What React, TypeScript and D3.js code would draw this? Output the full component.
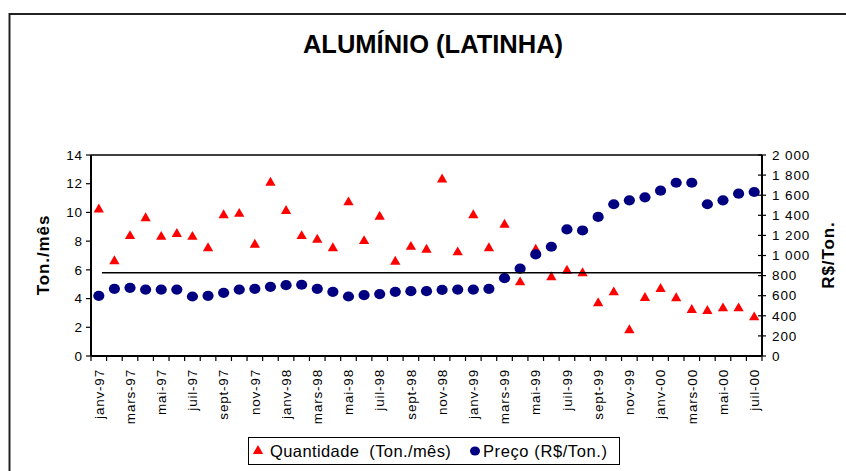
import React, { useRef, useEffect } from 'react';
import * as d3 from 'd3';

// monthly categories janv-97 .. juil-00
const monthNames = ['janv', 'févr', 'mars', 'avr', 'mai', 'juin', 'juil', 'août', 'sept', 'oct', 'nov', 'déc'];
const years = ['97', '98', '99', '00'];
const months: string[] = [];
years.forEach((yr) => monthNames.forEach((m) => months.push(`${m}-${yr}`)));
const categories = months.slice(0, 43);

// Quantidade (Ton./mês) - left axis
const quantidade = [
  10.2, 6.6, 8.35, 9.6, 8.3, 8.5, 8.3, 7.5, 9.8, 9.9, 7.75, 12.07,
  10.1, 8.35, 8.1, 7.5, 10.7, 8.0, 9.7, 6.57, 7.6, 7.4, 12.3, 7.22,
  9.8, 7.5, 9.14, 5.13, 7.4, 5.48, 5.94, 5.76, 3.67, 4.43, 1.79, 4.04,
  4.67, 4.02, 3.2, 3.13, 3.32, 3.32, 2.69,
];

// Preço (R$/Ton.) - right axis
const preco = [
  599, 668, 678, 661, 661, 661, 592, 599, 629, 661, 668, 688,
  705, 709, 668, 639, 592, 606, 616, 639, 645, 645, 658, 661,
  661, 668, 774, 869, 1011, 1087, 1259, 1249, 1384, 1510, 1549, 1579,
  1645, 1724, 1724, 1510, 1549, 1615, 1632,
];

const leftTicks = [0, 2, 4, 6, 8, 10, 12, 14];
const rightTicks = [0, 200, 400, 600, 800, 1000, 1200, 1400, 1600, 1800, 2000];
const refValue = 5.8;

const App = () => {
  const chartRef = useRef(null);

  useEffect(() => {
    document.body.style.margin = '0';
    const container = d3.select(chartRef.current);
    container.select('svg').remove();

    const width = 846;
    const height = 471;
    const left = 91;
    const right = 762;
    const top = 155;
    const bottom = 356;
    const font = '"Liberation Sans", Arial, sans-serif';

    const svg = container
      .append('svg')
      .attr('width', width)
      .attr('height', height)
      .style('display', 'block')
      .style('font-family', font);

    svg.append('rect').attr('width', width).attr('height', height).attr('fill', '#fff');

    // outer frame (extends past the window)
    svg.append('rect')
      .attr('x', 9.5).attr('y', 14)
      .attr('width', 900).attr('height', 500)
      .attr('fill', 'none').attr('stroke', '#222').attr('stroke-width', 2);

    svg.append('text')
      .attr('x', 433).attr('y', 53)
      .attr('text-anchor', 'middle')
      .attr('font-size', 25.5).attr('font-weight', 'bold')
      .text('ALUMÍNIO (LATINHA)');

    const x = d3.scaleBand().domain(categories).range([left, right]);
    const yL = d3.scaleLinear().domain([0, 14]).range([bottom, top]);
    const yR = d3.scaleLinear().domain([0, 2000]).range([bottom, top]);
    const fmt = d3.formatLocale({ decimal: ',', thousands: ' ', grouping: [3], currency: ['', ''] }).format(',');

    // plot frame: top line
    svg.append('line')
      .attr('x1', left).attr('x2', right).attr('y1', top).attr('y2', top)
      .attr('stroke', '#000').attr('stroke-width', 1.5);

    // left axis
    const gl = svg.append('g');
    gl.append('line').attr('x1', left).attr('x2', left).attr('y1', top).attr('y2', bottom)
      .attr('stroke', '#000').attr('stroke-width', 2);
    leftTicks.forEach((t) => {
      gl.append('line').attr('x1', left - 5).attr('x2', left).attr('y1', yL(t)).attr('y2', yL(t))
        .attr('stroke', '#000').attr('stroke-width', 1.2);
      gl.append('text').attr('x', 83).attr('y', yL(t)).attr('dy', '0.35em')
        .attr('text-anchor', 'end').attr('font-size', 13.5).style('letter-spacing', '0.9px')
        .text(String(t));
    });

    // right axis
    const gr = svg.append('g');
    gr.append('line').attr('x1', right).attr('x2', right).attr('y1', top).attr('y2', bottom)
      .attr('stroke', '#000').attr('stroke-width', 2);
    rightTicks.forEach((t) => {
      gr.append('line').attr('x1', right - 4).attr('x2', right + 4).attr('y1', yR(t)).attr('y2', yR(t))
        .attr('stroke', '#000').attr('stroke-width', 1.2);
      gr.append('text').attr('x', 772).attr('y', yR(t)).attr('dy', '0.35em')
        .attr('font-size', 13.5).style('letter-spacing', '0.9px')
        .text(fmt(t));
    });

    // bottom axis
    const gb = svg.append('g');
    gb.append('line').attr('x1', left).attr('x2', right).attr('y1', bottom).attr('y2', bottom)
      .attr('stroke', '#000').attr('stroke-width', 2);
    for (let i = 0; i <= categories.length; i++) {
      const tx = left + i * x.step();
      gb.append('line').attr('x1', tx).attr('x2', tx).attr('y1', bottom).attr('y2', bottom + 5)
        .attr('stroke', '#000').attr('stroke-width', 1.2);
    }
    categories.forEach((c, i) => {
      if (i % 2 !== 0) return;
      const cx = (x(c) as number) + x.bandwidth() / 2;
      gb.append('text')
        .attr('transform', `translate(${cx},369) rotate(-90)`)
        .attr('dy', '0.35em')
        .attr('text-anchor', 'end')
        .attr('font-size', 13.5).style('letter-spacing', '0.8px')
        .text(c);
    });

    // axis titles
    svg.append('text')
      .attr('transform', 'translate(43,255) rotate(-90)')
      .attr('dy', '0.35em').attr('text-anchor', 'middle')
      .attr('font-size', 17).attr('font-weight', 'bold').style('letter-spacing', '0.9px')
      .text('Ton./mês');
    svg.append('text')
      .attr('transform', 'translate(828,255) rotate(-90)')
      .attr('dy', '0.35em').attr('text-anchor', 'middle')
      .attr('font-size', 17).attr('font-weight', 'bold').style('letter-spacing', '0.9px')
      .text('R$/Ton.');

    const cxOf = (i: number) => (x(categories[i]) as number) + x.bandwidth() / 2;
    const tri = d3.symbol().type(d3.symbolTriangle).size(46);

    // quantidade triangles
    svg.append('g').selectAll('path')
      .data(quantidade)
      .enter()
      .append('path')
      .attr('d', tri as any)
      .attr('transform', (d, i) => `translate(${cxOf(i)},${yL(d)})`)
      .attr('fill', '#ff0000');

    // preco circles
    svg.append('g').selectAll('ellipse')
      .data(preco)
      .enter()
      .append('ellipse')
      .attr('cx', (d, i) => cxOf(i))
      .attr('cy', (d) => yR(d))
      .attr('rx', 5.6).attr('ry', 5.1)
      .attr('fill', '#000080');

    // reference line
    svg.append('line')
      .attr('x1', (x(categories[0]) as number) + x.bandwidth() * 0.7)
      .attr('x2', right)
      .attr('y1', yL(refValue)).attr('y2', yL(refValue))
      .attr('stroke', '#000').attr('stroke-width', 1.6);

    // legend
    const lg = svg.append('g');
    lg.append('rect').attr('x', 248.5).attr('y', 437.5).attr('width', 371).attr('height', 27)
      .attr('fill', '#fff').attr('stroke', '#000').attr('stroke-width', 1);
    lg.append('path').attr('d', tri as any).attr('transform', 'translate(258,451)').attr('fill', '#ff0000');
    lg.append('text').attr('x', 270).attr('y', 457).attr('font-size', 16.5).style('letter-spacing', '0.4px')
      .attr('xml:space', 'preserve').style('white-space', 'pre')
      .text('Quantidade  (Ton./mês)');
    lg.append('ellipse').attr('cx', 475).attr('cy', 451).attr('rx', 5).attr('ry', 4.6).attr('fill', '#000080');
    lg.append('text').attr('x', 483).attr('y', 457).attr('font-size', 16.5).style('letter-spacing', '0.6px')
      .text('Preço (R$/Ton.)');
  }, []);

  return <div ref={chartRef}></div>;
};

export default App;
